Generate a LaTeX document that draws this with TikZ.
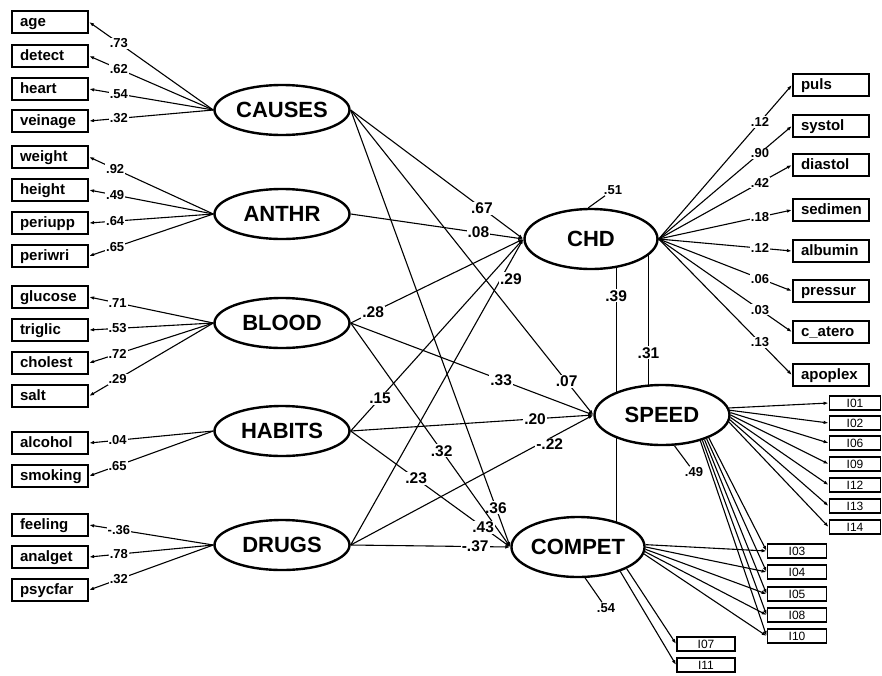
\documentclass[tikz,border=0pt]{standalone}
\usepackage{fontspec}
\setmainfont{Liberation Sans}
\usetikzlibrary{shapes.geometric,arrows.meta,backgrounds}

\begin{document}
\begin{tikzpicture}[x=1pt,y=-1pt,>={Latex[length=5pt,width=3.5pt]},
  wire/.style={line width=1.1pt},
  obs/.style={draw,rectangle,line width=2.2pt,text width=60pt,align=left,inner xsep=8pt,inner ysep=0pt,
    minimum height=22pt,text height=11pt,text depth=3pt,font=\fontsize{15}{15}\selectfont\bfseries},
  itembox/.style={draw,rectangle,line width=1.8pt,inner sep=0pt,minimum height=14pt,
    font=\fontsize{12}{12}\selectfont},
  factor/.style={draw,ellipse,line width=2.4pt,fill=white,inner sep=0pt,minimum width=135pt,
    minimum height=50pt,font=\fontsize{22}{22}\selectfont\bfseries},
  coef/.style={fill=white,inner sep=1pt,font=\fontsize{13}{13}\selectfont\bfseries},
  bigcoef/.style={coef,font=\fontsize{15.5}{15.5}\selectfont\bfseries}]
\useasboundingbox (0,0) rectangle (882,675);

% latent variables
\node[factor] (CAUSES) at (282,110) {CAUSES};
\node[factor] (ANTHR) at (282,214) {ANTHR};
\node[factor] (BLOOD) at (282,323) {BLOOD};
\node[factor] (HABITS) at (282,431) {HABITS};
\node[factor] (DRUGS) at (282,545) {DRUGS};
\node[factor,minimum width=133pt,minimum height=60pt] (CHD) at (591,239) {CHD};
\node[factor,minimum height=60pt] (SPEED) at (662,415) {SPEED};
\node[factor,minimum width=133pt,minimum height=60pt] (COMPET) at (578,547) {COMPET};

% observed, left
\node[obs] (age) at (50,22) {age};
\node[obs] (detect) at (50,56) {detect};
\node[obs] (heart) at (50,89) {heart};
\node[obs] (veinage) at (50,121) {veinage};
\node[obs] (weight) at (50,157) {weight};
\node[obs] (height) at (50,190) {height};
\node[obs] (periupp) at (50,223) {periupp};
\node[obs] (periwri) at (50,256) {periwri};
\node[obs] (glucose) at (50,297) {glucose};
\node[obs] (triglic) at (50,330) {triglic};
\node[obs] (cholest) at (50,363) {cholest};
\node[obs] (salt) at (50,396) {salt};
\node[obs] (alcohol) at (50,443) {alcohol};
\node[obs] (smoking) at (50,476) {smoking};
\node[obs] (feeling) at (50,525) {feeling};
\node[obs] (analget) at (50,557) {analget};
\node[obs] (psycfar) at (50,590) {psycfar};

% observed, CHD
\node[obs] (puls) at (831,85) {puls};
\node[obs] (systol) at (831,126) {systol};
\node[obs] (diastol) at (831,165) {diastol};
\node[obs] (sedimen) at (831,210) {sedimen};
\node[obs] (albumin) at (831,251) {albumin};
\node[obs] (pressur) at (831,291) {pressur};
\node[obs] (catero) at (831,332) {c\_atero};
\node[obs] (apoplex) at (831,375) {apoplex};

% items
\foreach \i/\y in {I01/403,I02/423,I06/443,I09/464,I12/485,I13/506,I14/527}
  \node[itembox,minimum width=51pt] (\i) at (855,\y) {\i};
\foreach \i/\y in {I03/551,I04/572,I05/594,I08/615,I10/636}
  \node[itembox,minimum width=59pt] (\i) at (797,\y) {\i};
\node[itembox,minimum width=58pt] (I07) at (706,644) {I07};
\node[itembox,minimum width=58pt] (I11) at (706,665) {I11};

% loadings
\foreach \b/\c in {age/.73,detect/.62,heart/.54,veinage/.32}
  \draw[wire,->] (CAUSES.west) -- node[coef,pos=.76] {\c} (\b.east);
\foreach \b/\c in {weight/.92,height/.49,periupp/.64,periwri/.65}
  \draw[wire,->] (ANTHR.west) -- node[coef,pos=.79] {\c} (\b.east);
\foreach \b/\c in {glucose/.71,triglic/.53,cholest/.72,salt/.29}
  \draw[wire,->] (BLOOD.west) -- node[coef,pos=.77] {\c} (\b.east);
\foreach \b/\c in {alcohol/.04,smoking/.65}
  \draw[wire,->] (HABITS.west) -- node[coef,pos=.77] {\c} (\b.east);
\foreach \b/\c in {feeling/-.36,analget/.78,psycfar/.32}
  \draw[wire,->] (DRUGS.west) -- node[coef,pos=.76] {\c} (\b.east);
\foreach \b/\c in {puls/.12,systol/.90,diastol/.42,sedimen/.18,albumin/.12,pressur/.06,catero/.03,apoplex/.13}
  \draw[wire,->] (CHD.east) -- node[coef,pos=.76] {\c} (\b.west);
\foreach \i/\a in {I01/6,I02/4,I06/2,I09/0,I12/-2,I13/-4,I14/-6}
  \draw[wire,->] (SPEED.\a) -- (\i.west);
\foreach \i/\a in {I03/-26,I04/-28,I05/-30,I08/-32,I10/-34}
  \draw[wire,->] (SPEED.\a) -- (\i.west);
\foreach \i/\a in {I03/2,I04/0,I05/-2,I08/-4,I10/-6}
  \draw[wire,->] (COMPET.\a) -- (\i.west);
\draw[wire,->] (COMPET.-24) -- (I07.west);
\draw[wire,->] (COMPET.-30) -- (I11.west);

% structural paths
\draw[wire,->] (CAUSES.east) -- node[bigcoef,pos=.76] {.67} (CHD.west);
\draw[wire,->] (ANTHR.east) -- node[bigcoef,pos=.74] {.08} (CHD.west);
\draw[wire,->] (BLOOD.east) -- node[bigcoef,pos=.13] {.28} (CHD.west);
\draw[wire,->] (HABITS.east) -- node[bigcoef,pos=.17] {.15} (CHD.west);
\draw[wire,->] (DRUGS.east) -- node[bigcoef,pos=.87,xshift=10pt] {.29} (CHD.west);
\draw[wire,->] (CAUSES.east) -- node[bigcoef,pos=.89] {.07} (SPEED.west);
\draw[wire,->] (BLOOD.east) -- node[bigcoef,pos=.62] {.33} (SPEED.west);
\draw[wire,->] (HABITS.east) -- node[bigcoef,pos=.76] {.20} (SPEED.west);
\draw[wire,->] (DRUGS.east) -- node[bigcoef,pos=.82,yshift=-6pt] {-.22} (SPEED.west);
\draw[wire,->] (CAUSES.east) -- node[bigcoef,pos=.91] {.36} (COMPET.west);
\draw[wire,->] (BLOOD.east) -- node[bigcoef,pos=.57] {.32} (COMPET.west);
\draw[wire,->] (HABITS.east) -- node[bigcoef,pos=.41] {.23} node[bigcoef,pos=.83] {.43} (COMPET.west);
\draw[wire,->] (DRUGS.east) -- node[bigcoef,pos=.78] {-.37} (COMPET.west);

% links between CHD, SPEED and COMPET (behind the ellipses)
\begin{scope}[on background layer]
\draw[wire] (CHD.-49) -- node[bigcoef,pos=.1] {.39} (CHD.-49 |- COMPET.center);
\draw[wire] (CHD.-16) -- node[bigcoef,pos=.61] {.31} (CHD.-16 |- SPEED.center);
\end{scope}

% residuals
\node[coef] (eCHD) at (613,190) {.51};
\node[coef] (eSPEED) at (694,472) {.49};
\node[coef] (eCOMPET) at (606,608) {.54};
\draw[wire] (CHD.95) -- (eCHD);
\draw[wire] (SPEED.-68) -- (eSPEED);
\draw[wire] (COMPET.-77) -- (eCOMPET);
\end{tikzpicture}
\end{document}
